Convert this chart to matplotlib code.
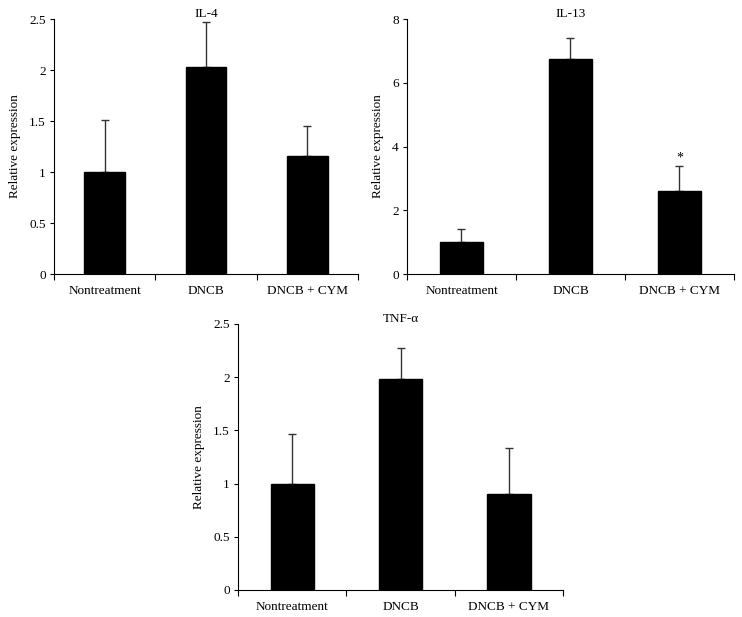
import matplotlib
matplotlib.use("Agg")
import matplotlib.pyplot as plt
from matplotlib.ticker import FixedLocator, FuncFormatter

plt.rcParams['font.family'] = ['Liberation Serif', 'DejaVu Serif']

categories = ["Nontreatment", "DNCB", "DNCB + CYM"]

il4_values = [1.0, 2.03, 1.16]
il4_errors = [0.51, 0.44, 0.29]
il4_ticks = [0, 0.5, 1, 1.5, 2, 2.5]

il13_values = [1.0, 6.75, 2.6]
il13_errors = [0.42, 0.65, 0.8]
il13_ticks = [0, 2, 4, 6, 8]
il13_marks = ["", "", "*"]

tnf_values = [1.0, 1.98, 0.9]
tnf_errors = [0.47, 0.29, 0.43]
tnf_ticks = [0, 0.5, 1, 1.5, 2, 2.5]

fig = plt.figure(figsize=(7.42, 6.17), dpi=100)


def fmt(v, pos):
    return ("%g" % v)


def panel(rect, title, values, errors, ticks, marks=None):
    ax = fig.add_axes(rect)
    x = list(range(len(categories)))
    ax.errorbar(x, values, yerr=[[0] * len(values), errors], fmt='none',
                ecolor='#333333', elinewidth=1.0, capsize=3, capthick=1.0, zorder=1)
    ax.bar(x, values, width=0.4, color='black', edgecolor='black', zorder=2)
    ax.set_xlim(-0.5, len(categories) - 0.5)
    ax.set_ylim(ticks[0], ticks[-1])
    ax.yaxis.set_major_locator(FixedLocator(ticks))
    ax.yaxis.set_major_formatter(FuncFormatter(fmt))
    ax.set_xticks([i - 0.5 for i in range(len(categories) + 1)])
    ax.set_xticklabels([])
    ax.set_xticks(x, minor=True)
    ax.set_xticklabels(categories, minor=True)
    ax.tick_params(axis='x', which='major', direction='out', length=4, width=0.8)
    ax.tick_params(axis='x', which='minor', length=0, pad=8, labelsize=9.5)
    ax.tick_params(axis='y', direction='out', length=3, width=0.8, labelsize=9.5, pad=3)
    for s in ['top', 'right']:
        ax.spines[s].set_visible(False)
    for s in ['left', 'bottom']:
        ax.spines[s].set_linewidth(0.8)
    ax.set_ylabel("Relative expression", fontsize=9.5, labelpad=6)
    ax.text(0.5, 0.995, title, transform=ax.transAxes, ha='center', va='bottom',
            fontsize=9.5)
    if marks:
        for i, m in enumerate(marks):
            if m:
                ax.annotate(m, (i, values[i] + errors[i]), xytext=(0, 1),
                            textcoords='offset points', ha='center', va='bottom',
                            fontsize=10)
    return ax


panel([0.0728, 0.5559, 0.4097, 0.4133], "IL-4", il4_values, il4_errors, il4_ticks)
panel([0.5485, 0.5559, 0.4407, 0.4133], "IL-13", il13_values, il13_errors, il13_ticks, il13_marks)
panel([0.3208, 0.0438, 0.4380, 0.4311], "TNF-\u03b1", tnf_values, tnf_errors, tnf_ticks)

fig.savefig("out.png", dpi=100)
